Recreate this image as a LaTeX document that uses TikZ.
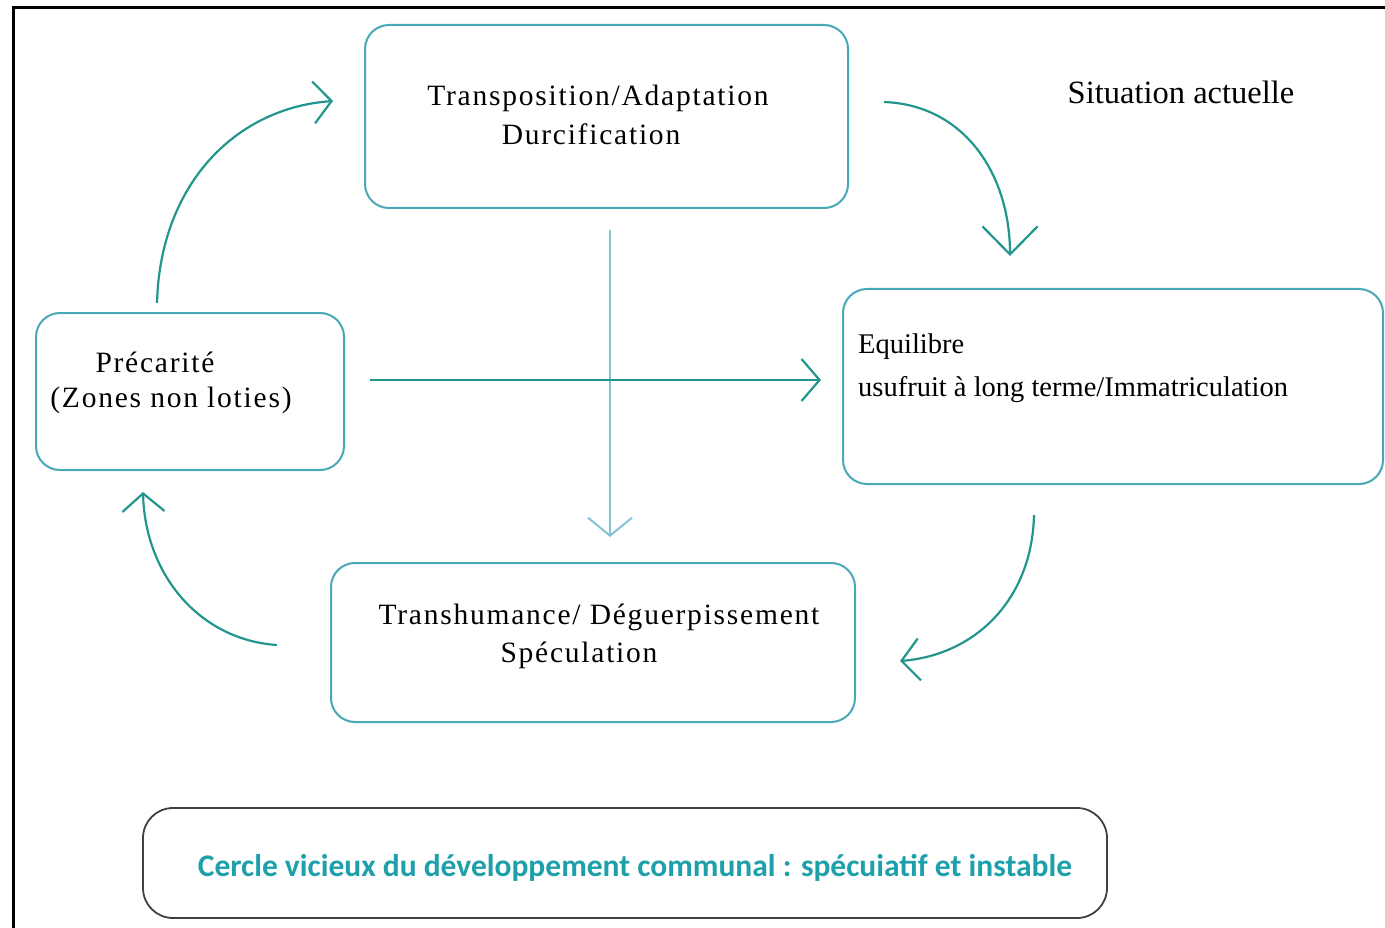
\documentclass[tikz,border=0pt]{standalone}
\usepackage{fontspec}
\setmainfont{Liberation Serif}
\newfontfamily\wideserif[LetterSpace=6]{Liberation Serif}
\newfontfamily\labelsans{Carlito}
\usetikzlibrary{arrows.meta}
\definecolor{boxcol}{RGB}{72,168,182}
\definecolor{arrcol}{RGB}{34,150,140}
\definecolor{lightarr}{RGB}{130,195,215}
\definecolor{labcol}{RGB}{30,160,170}
\begin{document}
\begin{tikzpicture}[x=1pt,y=-1pt,
  stagebox/.style={draw=boxcol,line width=2pt,rounded corners=24pt,inner sep=0pt},
  stagetext/.style={inner sep=0pt,font=\wideserif\fontsize{29.5}{34}\selectfont},
  flow/.style={draw=arrcol,line width=2.2pt,-{Straight Barb[length=18pt,width=42pt,line width=2.2pt]}},
  bigflow/.style={draw=arrcol,line width=2.2pt,-{Straight Barb[length=28pt,width=55pt,line width=2.2pt]}},
  lightflow/.style={draw=lightarr,line width=2pt,-{Straight Barb[length=18pt,width=44pt,line width=2pt]}}
]
\useasboundingbox (0,0) rectangle (1385,928);
% open frame
\draw[line width=3pt,black] (13,928) -- (13,8) -- (1385,8);

% boxes
\node[stagebox,minimum width=483pt,minimum height=183pt] (top) at (606.5,116.5) {};
\node[stagebox,minimum width=308pt,minimum height=157pt] (left) at (190,391.5) {};
\node[stagebox,minimum width=540pt,minimum height=195pt] (right) at (1113,386.5) {};
\node[stagebox,minimum width=524pt,minimum height=159pt] (bottom) at (593,642.5) {};
\node[draw=black!75,line width=1.8pt,rounded corners=30pt,minimum width=964pt,minimum height=110pt] (legend) at (625,863) {};

% texts
\node[stagetext] (t1) at (598,98) {Transposition/Adaptation};
\node[stagetext] (t2) at (591,134) {Durcification};
\node[stagetext] (p1) at (155,362) {Précarité};
\node[stagetext] (p2) at (171,400) {(Zones non loties)};
\node[inner sep=0pt,anchor=west,font=\fontsize{28.5}{32}\selectfont] (e1) at (858,347) {Equilibre};
\node[inner sep=0pt,anchor=west,font=\fontsize{28.5}{32}\selectfont] (e2) at (858,390) {usufruit à long terme/Immatriculation};
\node[stagetext] (s1) at (599,617) {Transhumance/ Déguerpissement};
\node[stagetext] (s2) at (579,655) {Spéculation};
\node[inner sep=0pt,font=\fontsize{32.5}{36}\selectfont] (sit) at (1181,92) {Situation actuelle};
\node[inner sep=0pt,text=labcol,font=\labelsans\bfseries\fontsize{31.5}{36}\selectfont] (lab) at (635,868) {Cercle vicieux du développement communal : spécuiatif et instable};

% connector end points
\coordinate (a1s) at (157,303);
\coordinate (a1e) at (333,101);
\coordinate (a2s) at (884,102);
\coordinate (a2e) at (1010,256);
\coordinate (a3s) at (1034,515);
\coordinate (a3e) at (900,661);
\coordinate (a4s) at (277,645);
\coordinate (a4e) at (143,492);
\coordinate (hs) at (370,380);
\coordinate (he) at (821,380);
\coordinate (vs) at (610,230);
\coordinate (ve) at (610,537);

\draw[flow] (a1s) .. controls (160,185) and (235,108) .. (a1e);
\draw[bigflow] (a2s) .. controls (965,105) and (1010,175) .. (a2e);
\draw[flow] (a3s) .. controls (1032,600) and (975,655) .. (a3e);
\draw[flow] (a4s) .. controls (200,640) and (145,575) .. (a4e);
\draw[lightflow] (vs) -- (ve);
\draw[flow] (hs) -- (he);
\end{tikzpicture}
\end{document}
